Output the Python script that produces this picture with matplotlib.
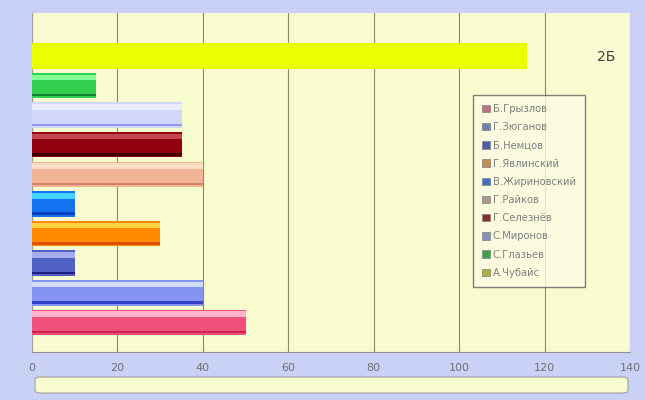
import matplotlib.pyplot as plt
from matplotlib.patches import FancyBboxPatch, Patch

# series, bottom bar first (same order as the legend, top to bottom)
names = ['Б.Грызлов', 'Г.Зюганов', 'Б.Немцов', 'Г.Явлинский', 'В.Жириновский',
         'Г.Райков', 'Г.Селезнёв', 'С.Миронов', 'С.Глазьев', 'А.Чубайс']
values = [50, 40, 10, 30, 10, 40, 35, 35, 15, 116]

main_col = ['#f2507c', '#8494f2', '#5262c4', '#ff8a00', '#1472f0',
            '#f2b496', '#92000e', '#d2d8fa', '#32d050', '#eaff00']
top_col = ['#ffb4cc', '#d4dcff', '#a4acea', '#ffd444', '#44d4ff',
           '#ffdcc4', '#c44454', '#eceeff', '#84ff94', '#eaff00']
bot_col = ['#d02050', '#3040c4', '#202084', '#e05000', '#0040c0',
           '#d08462', '#400000', '#9098f0', '#108030', '#eaff00']
leg_col = ['#c07088', '#7080b0', '#5060a8', '#c09050', '#4070c0',
           '#b09888', '#803030', '#8890b8', '#40a050', '#b0b040']

fig = plt.figure(figsize=(6.45, 4.0), dpi=100)
fig.patch.set_facecolor('#c9d1f6')
ax = fig.add_axes([32/645, 1-352/400, 598/645, 339/400])
ax.set_facecolor('#f8fbcd')

ypos = list(range(len(values)))
h = 0.86
ax.barh(ypos, values, height=h, color=main_col, zorder=3)
# bevel: light strip on top, dark strip at the bottom
ax.barh([y + h*0.32 for y in ypos], values, height=h*0.22, color=top_col, zorder=4)
ax.barh([y - h*0.38 for y in ypos], values, height=h*0.10, color=bot_col, zorder=4)

ax.set_xlim(0, 140)
ax.set_ylim(-1.0, 10.45)
ax.set_xticks(range(0, 141, 20))
ax.set_yticks([])
ax.xaxis.grid(True, color='#8a8a6a', linewidth=0.8, zorder=1)
ax.tick_params(axis='x', length=0, labelsize=8, labelcolor='#707070', pad=8)
for s in ['top', 'right']:
    ax.spines[s].set_visible(False)
ax.spines['left'].set_color('#a0a0a0')
ax.spines['bottom'].set_color('#909090')

ax.text(0.975, 0.87, '2Б', transform=ax.transAxes, ha='right', va='center',
        fontsize=10, color='#404040')

handles = [Patch(facecolor=c, edgecolor='#808080', linewidth=0.5) for c in leg_col]
leg = ax.legend(handles, names, loc='upper left',
                bbox_to_anchor=(441/598, (352-95)/339), fontsize=7.2,
                frameon=True, fancybox=False, handlelength=0.75, handleheight=0.75,
                handletextpad=0.3, labelspacing=0.82, borderpad=0.9,
                borderaxespad=0)
leg.get_frame().set_facecolor('#fbfce4')
leg.get_frame().set_edgecolor('#606060')
for t in leg.get_texts():
    t.set_color('#808080')

box = FancyBboxPatch((35/645, 1-393/400), 593/645, 16/400,
                     boxstyle='round,pad=0,rounding_size=0.008',
                     transform=fig.transFigure, facecolor='#f8fbcd',
                     edgecolor='#a0a0a0', linewidth=0.8)
fig.patches.append(box)

fig.savefig('out.png', dpi=100, facecolor=fig.get_facecolor())
